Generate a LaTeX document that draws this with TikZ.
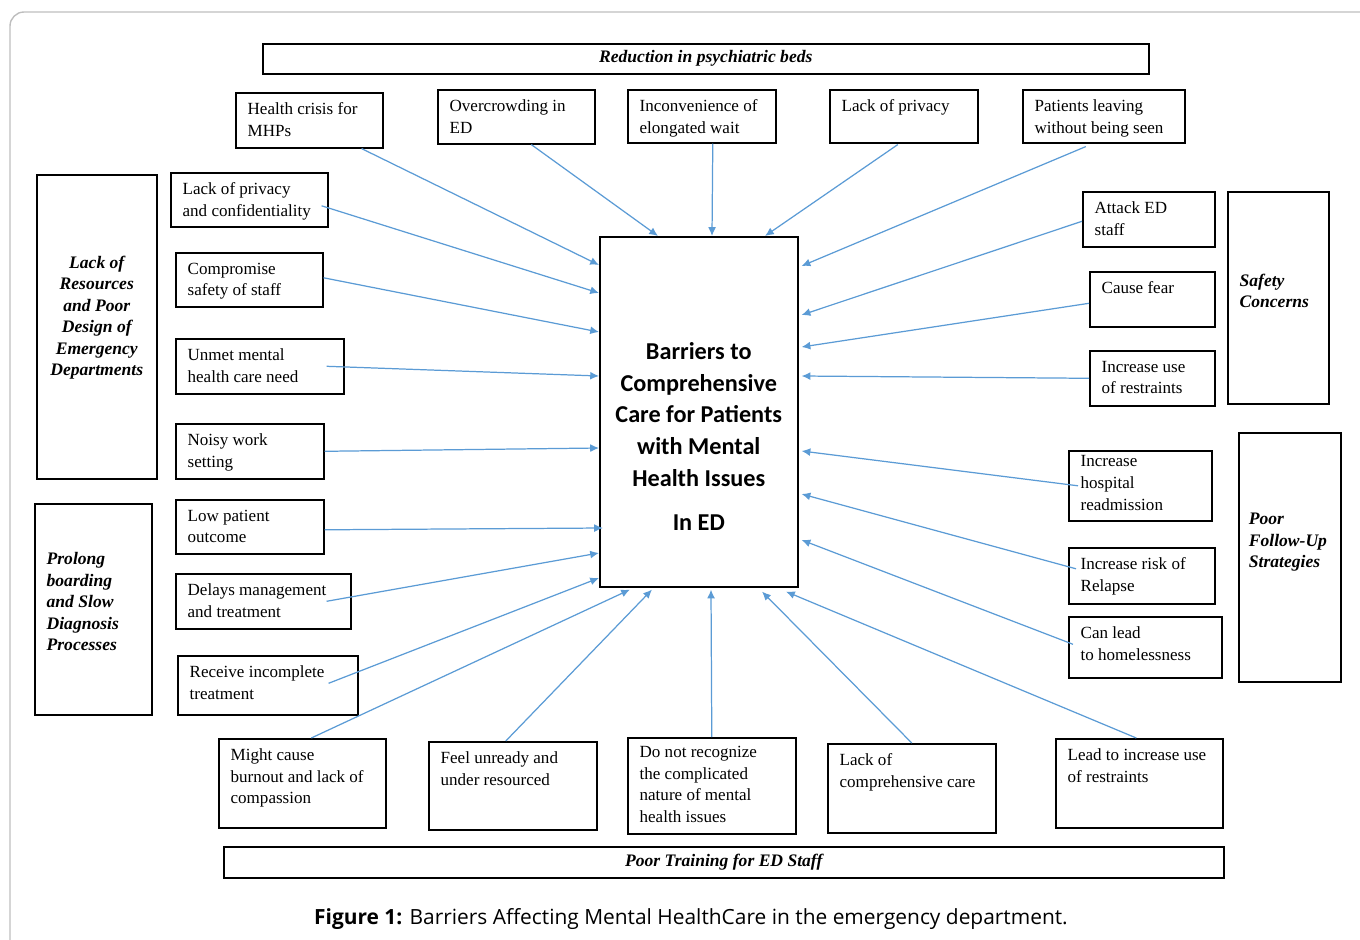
\documentclass[tikz,border=0pt]{standalone}
\usepackage{fontspec}
\setmainfont{Liberation Serif}
\newfontfamily\corefont{Carlito}
\newfontfamily\capfont{Open Sans}
\usetikzlibrary{calc,arrows.meta}
\definecolor{linkblue}{RGB}{91,155,213}
\definecolor{framegray}{RGB}{190,190,190}

\begin{document}
\begin{tikzpicture}[x=0.02cm,y=-0.02cm,
  box/.style 2 args={draw,line width=0.9pt,anchor=north west,inner sep=0pt,
    minimum width=#1*0.02cm,minimum height=#2*0.02cm},
  txt/.style={anchor=north west,align=left,inner xsep=7pt,inner ysep=6pt,
    font=\fontsize{9.7}{12.3}\selectfont},
  cat/.style={align=left,inner xsep=7pt,font=\fontsize{10}{12.2}\selectfont\bfseries\itshape},
  corelbl/.style={align=center,yshift=-0.5cm,font=\corefont\bfseries\fontsize{13.8}{18}\selectfont},
  link/.style={linkblue,line width=0.7pt,-{Latex[length=5pt,width=4.5pt]}}
  ]
\useasboundingbox (0,0) rectangle (1360,940);
\draw[framegray,line width=0.8pt,rounded corners=8pt] (10,12) rectangle (1380,970);

% group boxes
\node[box={886}{30},font=\fontsize{10}{12}\selectfont\bfseries\itshape] (beds) at (262,43) {Reduction in psychiatric beds};
\node[box={1000}{31},font=\fontsize{10}{12}\selectfont\bfseries\itshape] (training) at (223,846) {Poor Training for ED Staff};
\node[box={120}{304},label={[cat,align=center,yshift=0.18cm]center:{Lack of\\Resources\\and Poor\\Design of\\Emergency\\Departments}}] (resources) at (36,174) {};
\node[box={117}{211},label={[cat,anchor=west,yshift=0.15cm]west:{Prolong\\boarding\\and Slow\\Diagnosis\\Processes}}] (boarding) at (34,503) {};
\node[box={101}{212},label={[cat,anchor=west,yshift=0.14cm]west:{Safety\\Concerns}}] (concerns) at (1227,191) {};
\node[box={102}{249},label={[cat,anchor=west,inner xsep=6pt,yshift=0.3cm]west:{Poor\\Follow-Up\\Strategies}}] (followup) at (1238,432) {};

% centre
\node[box={198}{350},label={[corelbl]center:{Barriers to\\Comprehensive\\Care for Patients\\with Mental\\Health Issues\\[7.5pt]In ED}}] (core) at (599,236) {};

% top row
\node[box={147}{55},label={[txt]north west:{Health crisis for\\MHPs}}] (crisis) at (235,92) {};
\node[box={157}{54},label={[txt]north west:{Overcrowding in\\ED}}] (crowd) at (437,89) {};
\node[box={148}{53},label={[txt]north west:{Inconvenience of\\elongated wait}}] (wait) at (627,89) {};
\node[box={148}{53},label={[txt]north west:{Lack of privacy}}] (privacy) at (829,89) {};
\node[box={162}{53},label={[txt]north west:{Patients leaving\\without being seen}}] (leaving) at (1022,89) {};

% left column
\node[box={157}{54},label={[txt]north west:{Lack of privacy\\and confidentiality}}] (confid) at (170,172) {};
\node[box={147}{54},label={[txt]north west:{Compromise\\safety of staff}}] (safety) at (175,252) {};
\node[box={168}{55},label={[txt]north west:{Unmet mental\\health care need}}] (unmet) at (175,338) {};
\node[box={148}{55},label={[txt]north west:{Noisy work\\setting}}] (noisy) at (175,423) {};
\node[box={148}{54},label={[txt]north west:{Low patient\\outcome}}] (lowout) at (175,499) {};
\node[box={175}{55},label={[txt]north west:{Delays management\\and treatment}}] (delays) at (175,573) {};
\node[box={180}{59},label={[txt]north west:{Receive incomplete\\treatment}}] (incompl) at (177,655) {};

% right column
\node[box={132}{55},label={[txt]north west:{Attack ED\\staff}}] (attack) at (1082,191) {};
\node[box={125}{55},label={[txt]north west:{Cause fear}}] (fear) at (1089,271) {};
\node[box={125}{55},label={[txt]north west:{Increase use\\of restraints}}] (restr) at (1089,350) {};
\node[box={143}{70},label={[txt,inner ysep=3pt]north west:{Increase\\hospital\\readmission}}] (readm) at (1068,450) {};
\node[box={146}{56},label={[txt]north west:{Increase risk of\\Relapse}}] (relapse) at (1068,547) {};
\node[box={153}{61},label={[txt]north west:{Can lead\\to homelessness}}] (homeless) at (1068,616) {};

% bottom row
\node[box={167}{89},label={[txt]north west:{Might cause\\burnout and lack of\\compassion}}] (burnout) at (218,738) {};
\node[box={168}{88},label={[txt]north west:{Feel unready and\\under resourced}}] (unready) at (428,741) {};
\node[box={168}{96},label={[txt,inner ysep=5pt]north west:{Do not recognize\\the complicated\\nature of mental\\health issues}}] (recog) at (627,737) {};
\node[box={168}{89},label={[txt]north west:{Lack of\\comprehensive care}}] (lackcare) at (827,743) {};
\node[box={167}{89},label={[txt]north west:{Lead to increase use\\of restraints}}] (leadrestr) at (1055,738) {};

% arrows into the centre
\draw[link] ($(crisis.south east)+(-22,0)$) -- ($(core.north west)+(0,29)$);
\draw[link] ($(crowd.south)+(15,0)$) -- ($(core.north west)+(59,0)$);
\draw[link] ($(wait.south)+(11,0)$) -- ($(core.north west)+(113,0)$);
\draw[link] ($(privacy.south)+(-6,1)$) -- ($(core.north west)+(166,0)$);
\draw[link] ($(leaving.south)+(-18,3)$) -- ($(core.north east)+(3,30)$);
\draw[link] ($(confid.east)+(-7,6)$) -- ($(core.north west)+(0,57)$);
\draw[link] ($(safety.east)+(0,-2)$) -- ($(core.north west)+(0,96)$);
\draw[link] ($(unmet.east)+(-18,0)$) -- ($(core.north west)+(0,140)$);
\draw[link] (noisy.east) -- ($(core.north west)+(0,212)$);
\draw[link] ($(lowout.east)+(0,3)$) -- ($(core.north west)+(4,292)$);
\draw[link] ($(delays.east)+(-25,0)$) -- ($(core.north west)+(0,317)$);
\draw[link] ($(incompl.east)+(-30,-2)$) -- ($(core.north west)+(0,342)$);
\draw[link] ($(attack.west)+(0,2)$) -- ($(core.north east)+(3,79)$);
\draw[link] ($(fear.west)+(0,4)$) -- ($(core.north east)+(3,111)$);
\draw[link] (restr.west) -- ($(core.north east)+(3,140)$);
\draw[link] ($(readm.west)+(10,0)$) -- ($(core.north east)+(3,215)$);
\draw[link] ($(relapse.west)+(8,-7)$) -- ($(core.north east)+(3,258)$);
\draw[link] ($(homeless.west)+(5,-3)$) -- ($(core.north east)+(3,304)$);
\draw[link] ($(burnout.north)+(9,0)$) -- ($(core.south west)+(31,2)$);
\draw[link] ($(unready.north)+(-7,0)$) -- ($(core.south west)+(53,2)$);
\draw[link] (recog.north) -- ($(core.south west)+(112,2)$);
\draw[link] (lackcare.north) -- ($(core.south west)+(163,4)$);
\draw[link] ($(leadrestr.north)+(-3,0)$) -- ($(core.south west)+(187,4)$);

\node[font=\capfont\fontsize{11.9}{14}\selectfont] (caption) at (691,919)
  {\textbf{Figure 1:} Barriers Affecting Mental HealthCare in the emergency department.};
\end{tikzpicture}
\end{document}
